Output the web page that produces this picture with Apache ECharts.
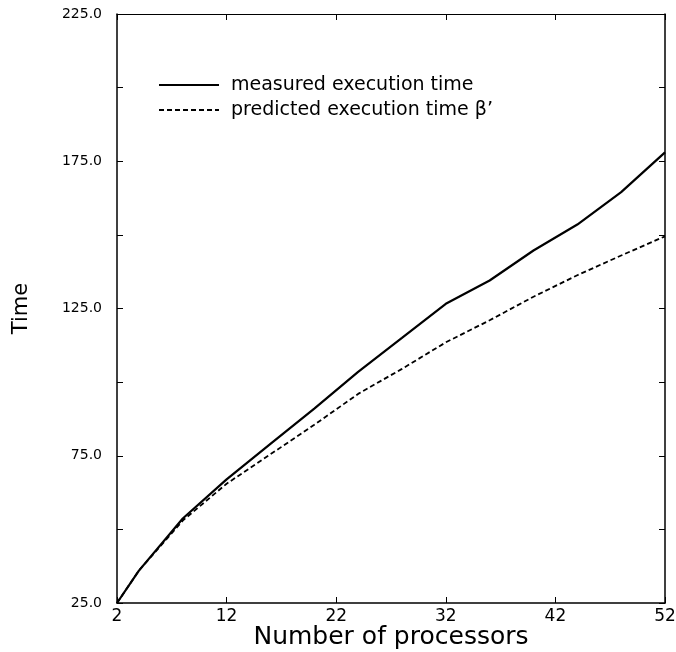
<!DOCTYPE html>
<html>
<head>
<meta charset="utf-8">
<script src="https://cdn.jsdelivr.net/npm/echarts@6/dist/echarts.min.js"></script>
<style>html,body{margin:0;padding:0;background:#fff}#c{width:676px;height:652px}</style>
</head>
<body>
<div id="c"></div>
<script>
const processors = [2, 4, 8, 12, 16, 20, 24, 28, 32, 36, 40, 44, 48, 52];
const measured = [25, 36, 53.7, 67, 79, 91, 103.5, 115, 126.6, 134.5, 144.7, 153.5, 164.5, 178];
const predicted = [25, 36, 53, 65.5, 75.5, 85.5, 96, 104.5, 113.5, 121, 129, 136.3, 143, 149.5];
const seriesNames = ['measured execution time', "predicted execution time \u03B2\u2019"];
const xTitle = 'Number of processors';
const yTitle = 'Time';

const font = '"DejaVu Sans", Verdana, sans-serif';
const chart = echarts.init(document.getElementById('c'));
const axisLine = { show: true, lineStyle: { color: '#000', width: 1.5 } };
const tick = { show: true, inside: true, length: 6, lineStyle: { color: '#000', width: 1 } };

chart.setOption({
  backgroundColor: '#fff',
  animation: false,
  grid: { left: 117, right: 11, top: 14, bottom: 49, outerBoundsMode: 'none', containLabel: false },
  legend: {
    orient: 'vertical',
    left: 153,
    top: 70.5,
    itemWidth: 60,
    itemHeight: 19,
    itemGap: 6,
    itemStyle: { opacity: 0 },
    textStyle: { fontFamily: font, fontSize: 19, color: '#000', padding: [0, 0, 0, 7] },
    data: seriesNames
  },
  xAxis: [{
    type: 'value', min: 2, max: 52, interval: 10,
    name: xTitle, nameLocation: 'middle', nameGap: 22, nameMoveOverlap: false,
    nameTextStyle: { fontFamily: font, fontSize: 25, color: '#000' },
    axisLine, axisTick: tick, splitLine: { show: false },
    axisLabel: { fontFamily: font, fontSize: 17, color: '#000', margin: 5 }
  }, {
    type: 'value', min: 2, max: 52, interval: 10, position: 'top',
    axisLine: { show: true, lineStyle: { color: '#000', width: 1 } }, axisTick: tick,
    axisLabel: { show: false }, splitLine: { show: false }
  }],
  yAxis: [{
    type: 'value', min: 25, max: 225, interval: 25,
    name: yTitle, nameLocation: 'middle', nameGap: 85, nameRotate: 90, nameMoveOverlap: false,
    nameTextStyle: { fontFamily: font, fontSize: 21, color: '#000' },
    axisLine, axisTick: tick, splitLine: { show: false },
    axisLabel: {
      fontFamily: font, fontSize: 14, color: '#000', margin: 15,
      formatter: v => ((v - 25) % 50 === 0 ? v.toFixed(1) : '')
    }
  }, {
    type: 'value', min: 25, max: 225, interval: 25, position: 'right',
    axisLine: { show: true, lineStyle: { color: '#000', width: 1.5 } }, axisTick: tick,
    axisLabel: { show: false }, splitLine: { show: false }
  }],
  series: [{
    name: seriesNames[0], type: 'line', symbol: 'none',
    data: processors.map((p, i) => [p, measured[i]]),
    lineStyle: { color: '#000', width: 2.2 }, itemStyle: { color: '#000' }
  }, {
    name: seriesNames[1], type: 'line', symbol: 'none',
    data: processors.map((p, i) => [p, predicted[i]]),
    lineStyle: { color: '#000', width: 1.8, type: [5, 3] }, itemStyle: { color: '#000' }
  }]
});
</script>
</body>
</html>
